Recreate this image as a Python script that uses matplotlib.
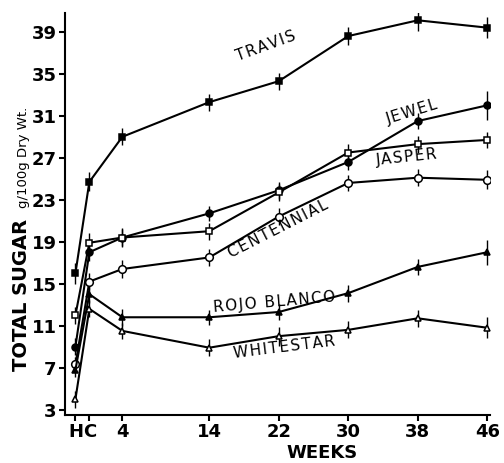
import matplotlib
matplotlib.use("Agg")
import matplotlib.pyplot as plt

# week positions (H = harvest, C = cured)
weeks = [-1.4, 0.2, 4, 14, 22, 30, 38, 46]
tick_labels = ["H", "C", "4", "14", "22", "30", "38", "46"]

travis = [16.0, 24.7, 29.0, 32.3, 34.3, 38.6, 40.1, 39.4]
jewel = [9.0, 18.0, 19.4, 21.7, 23.9, 26.6, 30.5, 32.0]
jasper = [12.0, 18.9, 19.4, 20.0, 23.7, 27.5, 28.3, 28.7]
centennial = [7.3, 15.2, 16.4, 17.5, 21.4, 24.6, 25.1, 24.9]
rojo = [6.8, 14.0, 11.8, 11.8, 12.3, 14.1, 16.6, 18.0]
whitestar = [4.0, 12.6, 10.5, 8.9, 10.0, 10.6, 11.7, 10.8]

err_travis = [1.0, 0.9, 0.8, 0.8, 0.8, 0.9, 1.0, 1.0]
err_jewel = [0.8, 0.8, 0.8, 0.7, 0.8, 0.8, 0.8, 1.4]
err_jasper = [0.8, 0.9, 0.9, 0.8, 0.8, 0.8, 0.8, 0.8]
err_cent = [0.7, 0.8, 0.9, 0.8, 0.8, 0.8, 0.8, 0.9]
err_rojo = [0.7, 0.8, 0.8, 0.7, 0.8, 0.8, 0.8, 1.2]
err_white = [0.8, 0.8, 0.8, 0.8, 0.9, 0.8, 0.8, 1.0]

fig = plt.figure(figsize=(5.04, 4.63), dpi=100)
ax = fig.add_axes([0.129, 0.104, 0.843, 0.868])

series = [
    (travis, err_travis, "s", "black", 5),
    (jewel, err_jewel, "o", "black", 5),
    (jasper, err_jasper, "s", "white", 5),
    (centennial, err_cent, "o", "white", 5.5),
    (rojo, err_rojo, "^", "black", 4),
    (whitestar, err_white, "^", "white", 4.5),
]
for vals, err, mk, fc, ms in series:
    ax.errorbar(weeks, vals, yerr=err, color="black", lw=1.5, marker=mk,
                mfc=fc, mec="black", mew=1.1, ms=ms, elinewidth=1, capsize=0)


def spaced(s):
    # a little letter spacing, like the typed labels of the original
    return "\u200a".join(s)


lab = dict(fontsize=11, color="black", family="DejaVu Sans", ha="center", va="center")
ax.text(20.5, 37.6, spaced("TRAVIS"), rotation=20, **lab)
ax.text(37.4, 31.4, spaced("JEWEL"), rotation=17, **lab)
ax.text(36.7, 27.0, spaced("JASPER"), rotation=6, **lab)
ax.text(21.9, 20.2, spaced("CENTENNIAL"), rotation=27, **lab)
ax.text(21.5, 13.2, spaced("ROJO BLANCO"), rotation=5, **lab)
ax.text(22.6, 8.9, spaced("WHITESTAR"), rotation=7, **lab)

ax.set_xlim(-2.6, 46.3)
ax.set_ylim(2.5, 40.8)
ax.set_xticks(weeks)
ax.set_xticklabels(tick_labels)
ax.set_yticks([3, 7, 11, 15, 19, 23, 27, 31, 35, 39])
for t in ax.get_xticklabels() + ax.get_yticklabels():
    t.set_fontsize(13)
    t.set_fontweight("bold")
ax.tick_params(direction="out", length=4, width=1.5, pad=2)
ax.spines["top"].set_visible(False)
ax.spines["right"].set_visible(False)
ax.spines["left"].set_linewidth(1.5)
ax.spines["bottom"].set_linewidth(1.5)

fig.text(0.639, 0.022, "WEEKS", fontsize=13, fontweight="heavy",
         ha="center", va="center")
fig.text(0.042, 0.363, "TOTAL SUGAR", rotation=90, fontsize=14, fontweight="bold",
         ha="center", va="center")
fig.text(0.046, 0.66, "g/100g Dry Wt.", rotation=90, fontsize=9.5,
         ha="center", va="center")

fig.savefig("out.png", dpi=100)
